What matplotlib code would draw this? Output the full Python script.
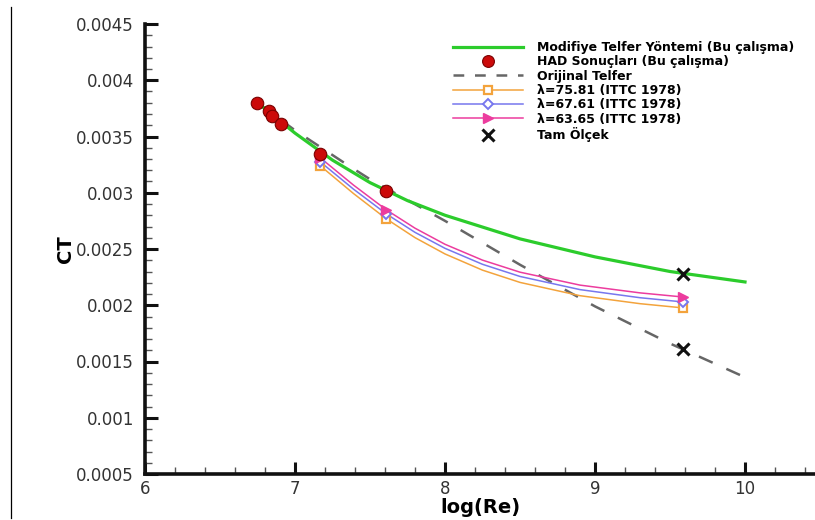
import matplotlib
matplotlib.use('Agg')
import matplotlib.pyplot as plt
from matplotlib.lines import Line2D

# ---------------- data ----------------
had_x = [6.75, 6.83, 6.85, 6.91, 7.17, 7.61]
had_ct = [0.003798, 0.003727, 0.003682, 0.003611, 0.003344, 0.003016]

mod_x = [6.75, 7.0, 7.25, 7.5, 7.75, 8.0, 8.5, 9.0, 9.5, 10.0]
mod_ct = [0.00380, 0.00353, 0.00329, 0.00309, 0.00293, 0.00280,
          0.00259, 0.00243, 0.00230, 0.002207]

orig_x = [6.75, 7.0, 7.35, 7.5, 8.0, 8.5, 9.0, 9.5, 10.0]
orig_ct = [0.00380, 0.003555, 0.003247, 0.00312, 0.00275, 0.00236,
           0.00199, 0.00166, 0.00136]

ittc_x = [7.17, 7.61, 9.59]
ct_7581 = [0.003238, 0.002767, 0.001976]
ct_6761 = [0.003273, 0.002811, 0.002029]
ct_6365 = [0.003309, 0.002847, 0.002073]

curve_x = [7.17, 7.39, 7.61, 7.8, 8.0, 8.25, 8.5, 8.9, 9.3, 9.59]
curve_7581 = [0.003238, 0.002993, 0.002767, 0.002601, 0.002456, 0.002312,
              0.002203, 0.002085, 0.002014, 0.001976]
curve_6761 = [0.003273, 0.003032, 0.002811, 0.002648, 0.002506, 0.002364,
              0.002256, 0.002139, 0.002067, 0.002029]
curve_6365 = [0.003309, 0.003068, 0.002847, 0.002685, 0.002542, 0.002401,
              0.002294, 0.002179, 0.002110, 0.002073]

full_x = [9.59, 9.59]
full_ct = [0.002278, 0.001611]

x_ticks = [6, 7, 8, 9, 10]
y_ticks = [0.0005, 0.001, 0.0015, 0.002, 0.0025, 0.003, 0.0035, 0.004, 0.0045]
y_tick_labels = ['0.0005', '0.001', '0.0015', '0.002', '0.0025', '0.003',
                 '0.0035', '0.004', '0.0045']

labels = ['Modifiye Telfer Yöntemi (Bu çalışma)',
          'HAD Sonuçları (Bu çalışma)',
          'Orijinal Telfer',
          'λ=75.81 (ITTC 1978)',
          'λ=67.61 (ITTC 1978)',
          'λ=63.65 (ITTC 1978)',
          'Tam Ölçek']

# ---------------- styles ----------------
c_green = '#2ccc2c'
c_red = '#cc0a0a'
c_red_edge = '#7a0000'
c_dash = '#666666'
c_orange = '#f3a33c'
c_blue = '#7777ee'
c_pink = '#ec3c9e'

plt.rcParams['font.family'] = ['DejaVu Sans']

W, H = 815, 520
fig = plt.figure(figsize=(W / 100, H / 100), dpi=100)
ax = fig.add_axes([145 / W, 1 - 474 / H, (W - 145) / W, (474 - 24) / H])

l_mod, = ax.plot(mod_x, mod_ct, color=c_green, lw=2.3, zorder=3)
l_orig, = ax.plot(orig_x, orig_ct, color=c_dash, lw=1.8, dashes=(6, 6), zorder=2)

ax.plot(curve_x, curve_7581, color=c_orange, lw=1.1, zorder=4)
ax.plot(curve_x, curve_6761, color=c_blue, lw=1.1, zorder=4)
ax.plot(curve_x, curve_6365, color=c_pink, lw=1.1, zorder=4)
l_o, = ax.plot(ittc_x, ct_7581, ls='none', marker='s', ms=6, mfc='white',
               mec=c_orange, mew=1.6, color=c_orange, zorder=5)
l_b, = ax.plot(ittc_x, ct_6761, ls='none', marker='D', ms=5, mfc='white',
               mec=c_blue, mew=1.4, color=c_blue, zorder=5)
l_p, = ax.plot(ittc_x, ct_6365, ls='none', marker='>', ms=6.5, mfc=c_pink,
               mec=c_pink, color=c_pink, zorder=5)

l_had, = ax.plot(had_x, had_ct, ls='none', marker='o', ms=9, mfc=c_red,
                 mec=c_red_edge, mew=0.8, zorder=6)
l_full, = ax.plot(full_x, full_ct, ls='none', marker='x', ms=9, mew=2.2,
                  color='#111111', zorder=7)

ax.set_xlim(6, 6 + (W - 145) / 150)
ax.set_ylim(0.0005, 0.0045)

ax.set_xticks(x_ticks)
ax.set_xticks([6 + 0.2 * i for i in range(23)], minor=True)
ax.set_yticks(y_ticks)
ax.set_yticklabels(y_tick_labels)
ax.set_yticks([0.0005 + 0.0001 * i for i in range(41)], minor=True)

for s in ['top', 'right']:
    ax.spines[s].set_visible(False)
for s in ['left', 'bottom']:
    ax.spines[s].set_linewidth(2.6)
    ax.spines[s].set_color('#111111')

ax.tick_params(axis='both', which='major', direction='in', length=9, width=2.2,
               color='#111111', labelsize=12, labelcolor='#333333')
ax.tick_params(axis='both', which='minor', direction='in', length=5, width=1.0,
               color='#555555')
ax.tick_params(axis='y', which='major', pad=8)
ax.tick_params(axis='x', which='major', pad=4)

ax.set_xlabel('log(Re)', fontsize=14, fontweight='bold', labelpad=0)
ax.set_ylabel('CT', fontsize=14, fontweight='bold', labelpad=1)

# legend handles
h_mod = Line2D([], [], color=c_green, lw=2.3)
h_had = Line2D([], [], ls='none', marker='o', ms=8.5, mfc=c_red, mec=c_red_edge, mew=0.8)
h_orig = Line2D([], [], color=c_dash, lw=1.8, dashes=(4.3, 4.3))
h_o = Line2D([], [], color=c_orange, lw=1.1, marker='s', ms=6, mfc='white', mec=c_orange, mew=1.6)
h_b = Line2D([], [], color=c_blue, lw=1.1, marker='D', ms=5, mfc='white', mec=c_blue, mew=1.4)
h_p = Line2D([], [], color=c_pink, lw=1.1, marker='>', ms=6.5, mfc=c_pink, mec=c_pink)
h_full = Line2D([], [], ls='none', marker='x', ms=9, mew=2.2, color='#111111')

leg = fig.legend([h_mod, h_had, h_orig, h_o, h_b, h_p, h_full], labels,
                 loc='upper left', bbox_to_anchor=(453 / W, 1 - 41 / H),
                 frameon=False, borderpad=0, borderaxespad=0,
                 handlelength=5.6, handletextpad=1.1, labelspacing=0.11,
                 numpoints=1, prop={'weight': 'bold', 'size': 9})

# thin vertical border line at left edge
fig.add_artist(Line2D([11 / W, 11 / W], [0.004, 0.987], color='black', lw=0.9,
                      transform=fig.transFigure))

fig.savefig('out.png', dpi=100)
